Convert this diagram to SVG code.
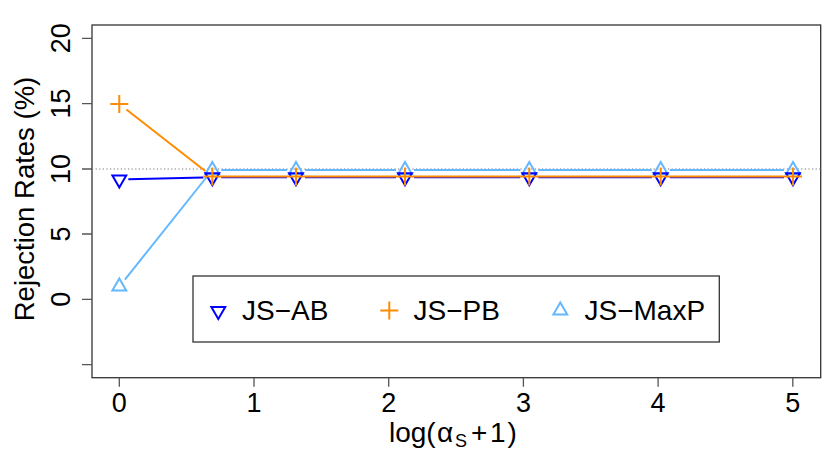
<svg xmlns="http://www.w3.org/2000/svg" width="830" height="461" viewBox="0 0 830 461">
<style>
text{font-family:"Liberation Sans",Arial,sans-serif;font-size:27px;fill:#000}
.lg{font-size:28px}
.box{fill:none;stroke:#333;stroke-width:1.3}
.tick{stroke:#555;stroke-width:1.3}
.ab{fill:none;stroke:#0000FF;stroke-width:2}
.pb{fill:none;stroke:#FF8C00;stroke-width:2}
.mp{fill:none;stroke:#63B8FF;stroke-width:2}
</style>
<defs>
<path id="tdown" d="M0,8 L-6.93,-4 L6.93,-4 Z"/>
<path id="tup" d="M0,-8 L-6.93,4 L6.93,4 Z"/>
<path id="plus" d="M-9,0 H9 M0,-9 V9"/>
</defs>
<rect width="830" height="461" fill="#fff"/>
<g id="axes">
<rect class="box" x="92" y="25" width="728.7" height="352.7"/>
<path class="tick" d="M82,38.3H92 M82,103.6H92 M82,169H92 M82,234H92 M82,299.3H92 M82,364.7H92"/>
<path class="tick" d="M119.3,377.7V386.7 M254,377.7V386.7 M388.7,377.7V386.7 M523.4,377.7V386.7 M658.1,377.7V386.7 M792.8,377.7V386.7"/>
<g text-anchor="middle">
<text transform="translate(70,38.3) rotate(-90)">20</text>
<text transform="translate(70,103.6) rotate(-90)">15</text>
<text transform="translate(70,169) rotate(-90)">10</text>
<text transform="translate(70,234) rotate(-90)">5</text>
<text transform="translate(70,299.3) rotate(-90)">0</text>
<text x="119.3" y="411.5">0</text>
<text x="254" y="411.5">1</text>
<text x="388.7" y="411.5">2</text>
<text x="523.4" y="411.5">3</text>
<text x="658.1" y="411.5">4</text>
<text x="792.8" y="411.5">5</text>
<text transform="translate(34,199) rotate(-90)" style="font-size:27.5px">Rejection Rates (%)</text>
</g>
<text class="lg" y="441.5"><tspan x="389">log(</tspan><tspan x="437">α</tspan><tspan x="455" dy="5" style="font-size:18px">S</tspan><tspan x="471" dy="-5">+</tspan><tspan x="490" letter-spacing="2">1)</tspan></text>
</g>
<line x1="92" y1="169" x2="820.7" y2="169" stroke="#777" stroke-width="1.2" stroke-dasharray="1.2 2.4"/>
<g id="connectors">
<path class="mp" d="M124.9,279.6L206.7,177 M221.3,170H287 M305,170H396 M414,170H520.3 M538.3,170H651.7 M669.7,170H784"/>
<path class="ab" d="M128.3,179.3L203.3,177.4 M221.3,177.2H287 M305,177.2H396 M414,177.2H520.3 M538.3,177.2H651.7 M669.7,177.2H784"/>
<path class="pb" d="M126.4,109.5L205.2,171 M221.3,176.5H287 M305,176.5H396 M414,176.5H520.3 M538.3,176.5H651.7 M669.7,176.5H784"/>
</g>
<g id="series-JS-MaxP" class="mp">
<use href="#tup" x="119.3" y="286.6"/>
<use href="#tup" x="212.3" y="170"/>
<use href="#tup" x="296" y="170"/>
<use href="#tup" x="405" y="170"/>
<use href="#tup" x="529.3" y="170"/>
<use href="#tup" x="660.7" y="170"/>
<use href="#tup" x="793" y="170"/>
</g>
<g id="series-JS-AB" class="ab">
<use href="#tdown" x="119.3" y="179.5"/>
<use href="#tdown" x="212.3" y="177.2"/>
<use href="#tdown" x="296" y="177.2"/>
<use href="#tdown" x="405" y="177.2"/>
<use href="#tdown" x="529.3" y="177.2"/>
<use href="#tdown" x="660.7" y="177.2"/>
<use href="#tdown" x="793" y="177.2"/>
</g>
<g id="series-JS-PB" class="pb">
<use href="#plus" x="119.3" y="104"/>
<use href="#plus" x="212.3" y="176.5"/>
<use href="#plus" x="296" y="176.5"/>
<use href="#plus" x="405" y="176.5"/>
<use href="#plus" x="529.3" y="176.5"/>
<use href="#plus" x="660.7" y="176.5"/>
<use href="#plus" x="793" y="176.5"/>
</g>
<g id="legend">
<rect x="193" y="276" width="526.3" height="66" fill="#fff" stroke="#333" stroke-width="1.3"/>
<use href="#tdown" x="218.3" y="311" class="ab"/>
<text class="lg" x="242" y="320">JS−AB</text>
<use href="#plus" x="389.3" y="310.5" class="pb"/>
<text class="lg" x="413.5" y="320">JS−PB</text>
<use href="#tup" x="560.3" y="310.5" class="mp"/>
<text class="lg" x="584.5" y="320">JS−MaxP</text>
</g>
</svg>
